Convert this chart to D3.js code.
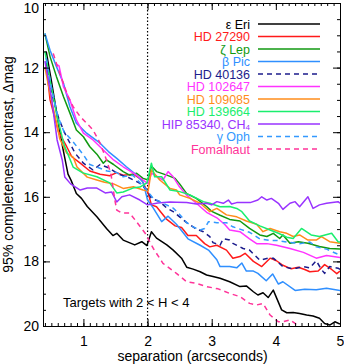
<!DOCTYPE html>
<html>
<head>
<meta charset="utf-8">
<script src="https://cdn.jsdelivr.net/npm/d3@7"></script>
<style>
  body { margin: 0; background: #fff; }
  svg text { font-family: "Liberation Sans", Arial, sans-serif; }
</style>
</head>
<body>
<div id="chart"></div>
<script>
var WIDTH = 344
var HEIGHT = 364

// star names in legend order
var starNames = ['ε Eri', 'HD 27290', 'ζ Lep', 'β Pic', 'HD 40136', 'HD 102647',
    'HD 109085', 'HD 139664', 'HIP 85340, CH4', 'γ Oph', 'Fomalhaut'];

// [separation (arcsec), 95% completeness contrast (Δmag)]
var epsEri = [[0.42,11.5],[0.5,12.4],[0.6,13.6],[0.68,14.5],[0.76,15.3],[0.81,15.5],[0.89,15.9],[0.97,16.05],[1.06,16.3],[1.21,16.62],[1.36,16.98],[1.46,17.2],[1.52,17.13],[1.62,17.34],[1.8,17.49],[1.91,17.39],[1.99,17.51],[2.06,17.08],[2.14,17.28],[2.3,17.49],[2.4,17.65],[2.53,17.9],[2.61,18.18],[2.71,18.24],[2.82,18.32],[2.92,18.42],[3.02,18.47],[3.13,18.52],[3.28,18.63],[3.44,18.78],[3.54,18.76],[3.65,18.94],[3.72,19.04],[3.8,18.97],[3.88,19.12],[3.96,18.89],[4.09,19.5],[4.17,19.59],[4.27,19.58],[4.37,19.61],[4.48,19.66],[4.58,19.69],[4.68,19.76],[4.76,19.92],[4.84,19.97],[4.92,19.87],[5.0,19.94]];
var hd27290 = [[0.42,11.9],[0.48,13.0],[0.61,13.98],[0.74,14.45],[0.82,14.76],[0.95,14.96],[1.1,15.2],[1.26,15.3],[1.41,15.35],[1.52,15.25],[1.62,15.33],[1.78,15.3],[1.91,15.48],[2.01,15.89],[2.06,16.25],[2.14,16.31],[2.3,16.7],[2.43,16.9],[2.53,16.95],[2.63,17.2],[2.76,17.2],[2.89,17.45],[2.97,17.55],[3.08,17.5],[3.23,17.65],[3.33,17.9],[3.44,17.85],[3.52,17.75],[3.65,18.0],[3.78,18.16],[3.91,17.9],[4.01,17.98],[4.11,18.12],[4.24,18.23],[4.35,18.18],[4.45,18.25],[4.53,18.32],[4.66,18.3],[4.76,18.1],[4.87,18.25],[4.95,18.38],[5.0,18.3]];
var zetLep = [[0.4,10.95],[0.48,11.66],[0.58,12.28],[0.69,12.9],[0.79,13.41],[0.89,13.93],[1.0,14.14],[1.1,14.45],[1.21,14.68],[1.31,14.96],[1.36,14.86],[1.47,15.0],[1.62,15.22],[1.72,15.33],[1.83,15.27],[1.93,15.43],[2.01,15.48],[2.06,15.05],[2.14,15.22],[2.3,15.33],[2.43,15.43],[2.5,15.6],[2.61,15.9],[2.76,16.05],[2.92,16.3],[3.0,16.45],[3.13,16.57],[3.28,16.7],[3.44,16.75],[3.59,16.98],[3.75,17.18],[3.86,17.23],[3.96,17.13],[4.06,17.29],[4.11,17.18],[4.22,17.44],[4.35,17.39],[4.5,17.44],[4.68,17.54],[4.84,17.6],[5.0,17.62]];
var betPic = [[0.4,10.94],[0.48,11.46],[0.58,11.97],[0.69,12.49],[0.79,13.21],[0.89,13.72],[1.05,14.03],[1.26,14.34],[1.39,14.6],[1.52,14.81],[1.67,15.07],[1.83,15.33],[1.93,15.55],[2.0,16.1],[2.09,16.35],[2.22,16.77],[2.32,16.6],[2.45,16.85],[2.55,17.1],[2.63,17.3],[2.82,17.5],[2.95,17.65],[3.08,17.95],[3.13,18.16],[3.28,18.16],[3.39,18.2],[3.47,18.05],[3.54,18.3],[3.65,18.3],[3.72,18.37],[3.85,18.6],[3.95,18.39],[4.04,18.7],[4.11,18.63],[4.3,18.9],[4.45,18.86],[4.63,18.88],[4.79,18.83],[5.0,18.9]];
var hd40136 = [[0.42,11.8],[0.53,13.0],[0.62,13.6],[0.71,14.03],[0.87,14.65],[1.0,14.96],[1.15,15.17],[1.26,15.0],[1.39,15.1],[1.55,15.3],[1.7,15.4],[1.88,15.58],[1.99,15.79],[2.06,16.05],[2.19,16.15],[2.3,16.35],[2.4,16.46],[2.5,16.62],[2.61,16.8],[2.76,17.0],[2.87,17.08],[2.97,17.23],[3.02,17.42],[3.13,17.5],[3.18,17.3],[3.28,17.34],[3.33,17.44],[3.49,17.6],[3.59,17.65],[3.75,17.96],[3.88,17.9],[3.96,17.9],[4.11,18.16],[4.22,18.21],[4.32,18.21],[4.43,18.16],[4.53,18.2],[4.63,17.98],[4.71,18.25],[4.76,18.37],[4.84,18.16],[4.97,18.21],[5.0,18.25]];
var hd102647 = [[0.58,11.9],[0.62,11.95],[0.69,12.6],[0.79,13.0],[0.89,13.62],[1.0,14.03],[1.15,14.24],[1.31,14.55],[1.47,14.86],[1.62,15.07],[1.78,15.27],[1.93,15.48],[2.01,15.6],[2.06,15.27],[2.24,15.48],[2.32,15.22],[2.4,15.38],[2.5,15.7],[2.61,15.95],[2.76,16.2],[2.92,16.48],[3.08,16.65],[3.2,16.85],[3.28,17.03],[3.44,17.08],[3.59,17.3],[3.7,17.45],[3.86,17.45],[4.01,17.5],[4.22,17.6],[4.43,17.72],[4.63,17.9],[4.79,17.82],[5.0,17.88]];
var hd109085 = [[0.4,12.0],[0.5,13.0],[0.56,13.5],[0.63,14.2],[0.74,14.65],[0.84,14.77],[0.9,15.08],[1.06,15.39],[1.21,15.48],[1.33,15.55],[1.47,15.6],[1.62,15.74],[1.78,15.69],[1.93,15.79],[2.01,15.82],[2.06,15.17],[2.19,15.48],[2.35,15.74],[2.45,15.79],[2.5,15.94],[2.66,16.05],[2.82,16.2],[2.97,16.46],[3.08,16.36],[3.23,16.56],[3.39,16.62],[3.54,16.75],[3.7,16.85],[3.8,17.08],[3.91,16.98],[4.06,17.08],[4.17,17.13],[4.27,17.23],[4.37,17.18],[4.5,17.34],[4.63,17.34],[4.71,17.23],[4.84,17.39],[5.0,17.44]];
var hd139664 = [[0.4,11.5],[0.5,12.6],[0.6,13.6],[0.7,14.4],[0.84,15.08],[0.99,15.26],[1.21,15.38],[1.41,15.57],[1.52,15.88],[1.62,15.85],[1.77,15.73],[1.88,15.7],[1.99,15.57],[2.06,14.96],[2.11,15.38],[2.22,15.38],[2.35,15.79],[2.5,15.84],[2.66,15.94],[2.87,16.15],[2.97,16.2],[3.13,16.31],[3.28,16.3],[3.39,16.36],[3.47,16.46],[3.59,16.75],[3.75,16.9],[3.91,17.03],[4.04,17.13],[4.17,17.25],[4.27,17.29],[4.4,16.98],[4.55,17.18],[4.68,17.23],[4.87,17.13],[4.97,17.39],[5.0,17.4]];
var hip85340 = [[0.4,11.8],[0.5,12.9],[0.59,14.24],[0.67,14.86],[0.71,15.39],[0.8,15.6],[0.95,15.79],[1.06,15.73],[1.21,15.73],[1.34,15.88],[1.44,15.85],[1.52,16.16],[1.6,16.0],[1.72,15.94],[1.88,16.1],[2.0,16.25],[2.16,16.19],[2.35,16.16],[2.45,16.17],[2.61,16.18],[2.76,16.22],[2.92,16.2],[3.0,16.25],[3.08,16.15],[3.18,16.2],[3.26,16.1],[3.31,16.22],[3.39,16.18],[3.6,16.18],[3.72,16.1],[3.78,16.0],[3.86,16.1],[3.93,16.05],[4.04,16.2],[4.11,16.39],[4.22,16.2],[4.3,16.15],[4.37,16.31],[4.5,16.0],[4.58,16.36],[4.68,16.25],[4.79,16.2],[4.97,16.15],[5.0,16.2]];
var gamOph = [[0.42,11.7],[0.5,12.6],[0.6,13.5],[0.7,14.0],[0.8,14.2],[0.9,14.45],[1.0,14.7],[1.1,15.0],[1.37,15.2],[1.52,15.25],[1.62,15.38],[1.77,15.33],[1.96,15.73],[2.09,16.05],[2.24,16.2],[2.4,16.35],[2.5,16.55],[2.61,16.8],[2.71,16.93],[2.82,17.03],[2.89,16.98],[2.95,16.77],[3.08,16.8],[3.23,16.8],[3.33,16.93],[3.44,17.0],[3.59,17.1],[3.75,17.3],[3.91,17.35],[4.01,17.35],[4.17,17.4],[4.37,17.45],[4.53,17.4],[4.63,17.55],[4.79,17.62],[4.97,17.78],[5.0,17.8]];
var fomalhaut = [[0.53,11.56],[0.61,12.07],[0.69,12.49],[0.76,12.9],[0.84,13.21],[0.95,13.52],[1.05,13.72],[1.15,13.93],[1.26,14.34],[1.36,14.86],[1.43,15.3],[1.49,16.1],[1.52,16.41],[1.6,16.5],[1.72,16.5],[1.83,16.78],[1.96,17.12],[2.09,17.6],[2.24,18.06],[2.45,18.37],[2.61,18.63],[2.76,18.68],[2.92,18.78],[3.1,18.85],[3.28,18.99],[3.44,19.09],[3.59,19.3],[3.7,19.35],[3.8,19.3],[3.91,19.66],[4.04,19.87],[4.11,19.87],[4.22,19.81],[4.3,19.92],[4.4,20.15]];

var xTicks = [1, 2, 3, 4, 5];
var yTicks = [10, 12, 14, 16, 18, 20];

var seriesValues = [epsEri, hd27290, zetLep, betPic, hd40136, hd102647,
    hd109085, hd139664, hip85340, gamOph, fomalhaut];

// styles, same order as the names
var colors = ['#000000', '#ff1a1a', '#119911', '#2f8fff', '#1c1c8c', '#ff33ff',
    '#ff8c1a', '#1aee6e', '#9933ff', '#3399ff', '#ff3399'];
var dashed = [false, false, false, false, true, false, false, false, false, true, true];

var m = {left: 43, right: 4, top: 3, bottom: 38};

const svg = d3.select('#chart').append('svg')
    .attr('width', WIDTH)
    .attr('height', HEIGHT);

let x = d3.scaleLinear().domain([0.37, 5]).range([m.left, WIDTH - m.right]);
let y = d3.scaleLinear().domain([10, 20]).range([m.top, HEIGHT - m.bottom]);

svg.append('defs').append('clipPath').attr('id', 'clip')
    .append('rect')
    .attr('x', m.left).attr('y', m.top)
    .attr('width', WIDTH - m.left - m.right)
    .attr('height', HEIGHT - m.top - m.bottom);

// dotted line at 2 arcsec
svg.append('line')
    .attr('x1', x(2)).attr('x2', x(2))
    .attr('y1', y(10)).attr('y2', y(20))
    .attr('stroke', '#000').attr('stroke-width', 1.2)
    .attr('stroke-dasharray', '1.5,2');

var line = d3.line().x(d => x(d[0])).y(d => y(d[1]));

var g = svg.append('g').attr('clip-path', 'url(#clip)');
g.selectAll('path.curve')
    .data(seriesValues)
    .enter()
    .append('path')
    .attr('class', 'curve')
    .attr('d', line)
    .attr('fill', 'none')
    .attr('stroke', (d, i) => colors[i])
    .attr('stroke-width', 1.5)
    .attr('stroke-linejoin', 'round')
    .attr('stroke-dasharray', (d, i) => dashed[i] ? '5,4' : null);

// axes: major + minor ticks on all four sides, pointing inward
var minorX = d3.range(0.4, 5.001, 0.1);
var minorY = d3.range(10, 20.001, 0.5);
var plotW = WIDTH - m.left - m.right;
var plotH = HEIGHT - m.top - m.bottom;

function styleAxis(sel) {
    sel.select('.domain').attr('stroke', '#000').attr('stroke-width', 1);
    sel.selectAll('.tick line').attr('stroke', '#000').attr('stroke-width', 1);
    sel.selectAll('.tick text')
        .attr('font-size', 14)
        .attr('font-family', '"Liberation Sans", Arial, sans-serif')
        .attr('fill', '#000');
}

svg.append('g').attr('transform', 'translate(0,' + (HEIGHT - m.bottom) + ')')
    .call(d3.axisBottom(x).tickValues(minorX).tickSize(-3).tickFormat(''))
    .call(styleAxis);
svg.append('g').attr('transform', 'translate(0,' + (HEIGHT - m.bottom) + ')')
    .call(d3.axisBottom(x).tickValues(xTicks).tickSize(-7).tickPadding(10).tickFormat(d3.format('d')))
    .call(styleAxis);
svg.append('g').attr('transform', 'translate(0,' + m.top + ')')
    .call(d3.axisTop(x).tickValues(minorX).tickSize(-3).tickFormat(''))
    .call(styleAxis);
svg.append('g').attr('transform', 'translate(0,' + m.top + ')')
    .call(d3.axisTop(x).tickValues(xTicks).tickSize(-7).tickFormat(''))
    .call(styleAxis);

svg.append('g').attr('transform', 'translate(' + m.left + ',0)')
    .call(d3.axisLeft(y).tickValues(minorY).tickSize(-3).tickFormat(''))
    .call(styleAxis);
var yAxisG = svg.append('g').attr('transform', 'translate(' + m.left + ',0)')
    .call(d3.axisLeft(y).tickValues(yTicks).tickSize(-7).tickPadding(4).tickFormat(d3.format('d')))
    .call(styleAxis);
// keep the top label inside the picture
yAxisG.selectAll('.tick text').filter(d => d === 10).attr('dy', '0.7em');
svg.append('g').attr('transform', 'translate(' + (WIDTH - m.right) + ',0)')
    .call(d3.axisRight(y).tickValues(minorY).tickSize(-3).tickFormat(''))
    .call(styleAxis);
svg.append('g').attr('transform', 'translate(' + (WIDTH - m.right) + ',0)')
    .call(d3.axisRight(y).tickValues(yTicks).tickSize(-7).tickFormat(''))
    .call(styleAxis);

// axis titles
svg.append('text')
    .attr('x', m.left + plotW / 2 + 1)
    .attr('y', HEIGHT - 3)
    .attr('text-anchor', 'middle')
    .attr('font-size', 14)
    .text('separation (arcseconds)');

svg.append('text')
    .attr('transform', 'translate(13,' + (m.top + plotH / 2) + ') rotate(-90)')
    .attr('text-anchor', 'middle')
    .attr('font-size', 14)
    .text('95% completeness contrast, Δmag');

svg.append('text')
    .attr('x', 63)
    .attr('y', 307)
    .attr('font-size', 13)
    .text('Targets with 2 < H < 4');

// legend
var legX = 250, legY0 = 24, legDy = 12.5;
var leg = svg.append('g');
starNames.forEach((name, i) => {
    var ly = legY0 + i * legDy;
    var t = leg.append('text')
        .attr('x', legX)
        .attr('y', ly + 4.5)
        .attr('text-anchor', 'end')
        .attr('font-size', 12.5)
        .attr('fill', colors[i]);
    if (name.indexOf('CH4') >= 0) {
        t.append('tspan').text('HIP 85340, CH');
        t.append('tspan').attr('font-size', 8).attr('dy', 1.5).text('4');
    } else {
        t.text(name);
    }
    leg.append('line')
        .attr('x1', 258).attr('x2', 320)
        .attr('y1', ly).attr('y2', ly)
        .attr('stroke', colors[i])
        .attr('stroke-width', 1.5)
        .attr('stroke-dasharray', dashed[i] ? '5,4' : null);
});
</script>
</body>
</html>
